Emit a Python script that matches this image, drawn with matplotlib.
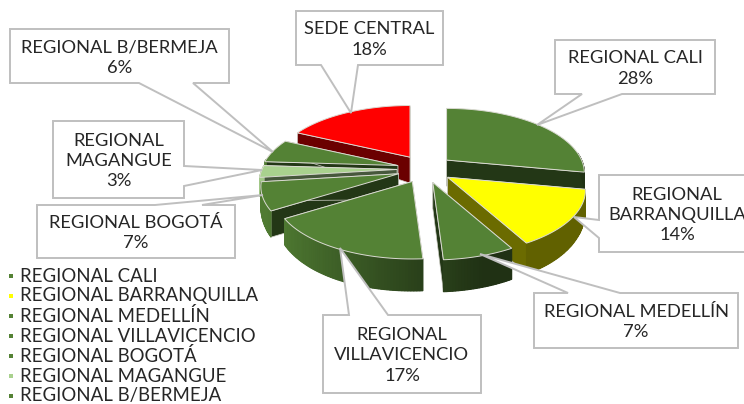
import numpy as np
import matplotlib
matplotlib.use("Agg")
import matplotlib.pyplot as plt
from matplotlib.patches import Polygon

# ============================================================
# DATA
# ============================================================

categories = ["REGIONAL CALI", "REGIONAL BARRANQUILLA", "REGIONAL MEDELLÍN", "REGIONAL VILLAVICENCIO",
              "REGIONAL BOGOTÁ", "REGIONAL MAGANGUE", "REGIONAL B/BERMEJA", "SEDE CENTRAL"]
percents = [28, 14, 7, 17, 7, 3, 6, 18]
callout_names = ["REGIONAL CALI", "REGIONAL\nBARRANQUILLA", "REGIONAL MEDELLÍN", "REGIONAL\nVILLAVICENCIO",
                 "REGIONAL BOGOTÁ", "REGIONAL\nMAGANGUE", "REGIONAL B/BERMEJA", "SEDE CENTRAL"]
legend_names = categories[:7]

GREEN = "#548235"
colors = [GREEN, "#FFFF00", GREEN, GREEN, GREEN, "#A9D18E", GREEN, "#FF0000"]

# ============================================================
# LAYOUT (pixels of the 744x404 picture)
# ============================================================

# left, top, right, bottom
boxes = [(555, 40, 715, 94), (599, 175, 755, 252), (534, 293, 738, 348), (323, 315, 481, 393),
         (37, 205, 235, 258), (53, 121, 184, 198), (10, 29, 229, 83), (296, 11, 443, 65)]
# two points where the pointer leaves the box, then its tip
pointers = [((582, 94), (622, 94), (537, 125)), ((599, 238), (599, 220), (574, 217)),
            ((568, 293), (620, 293), (480, 254)), ((349, 315), (388, 315), (340, 248)),
            ((155, 205), (202, 205), (263, 195)), ((184, 186), (184, 166), (262, 170)),
            ((139, 83), (193, 83), (273, 152)), ((321, 65), (358, 65), (351, 113))]

CENTER = (425, 169)
EXPLODE = (28, 14)
RX, RY, PERSP = 135, 62, 0.2
TEXT_COLOR = "#262626"
BOX_EDGE = "#BFBFBF"
FONT = "Lato"
FONT_SIZE = 13.2


# ============================================================
# PIE GEOMETRY
# ============================================================

def rim(theta):
    # theta clockwise from the top of the pie, in radians
    u, v = np.sin(theta), -np.cos(theta)
    s = 1 / (1 - PERSP * v)
    return RX * u * s, RY * v * s


def depth(u, v):
    return 26 + 6 * v - 9 * u * u * (1 - v)


def shade(color, factor):
    return tuple(c * factor for c in matplotlib.colors.to_rgb(color))


def wall_factor(u):
    return np.interp(u, [-0.9, 0.3], [0.95, 0.38])


def draw_slice(ax, a0, a1, color, zorder):
    mid = (a0 + a1) / 2
    ax_, ay_ = CENTER[0] + EXPLODE[0] * np.sin(mid), CENTER[1] - EXPLODE[1] * np.cos(mid)
    apex_drop = depth(0, 0)
    theta = np.linspace(a0, a1, max(int(np.degrees(a1 - a0)), 4))
    rx_, ry_ = rim(theta)
    xs, ys = ax_ + rx_, ay_ + ry_
    drops = depth(np.sin(theta), -np.cos(theta))

    # cut faces
    for i in (0, -1):
        face = [(ax_, ay_), (xs[i], ys[i]), (xs[i], ys[i] + drops[i]), (ax_, ay_ + apex_drop)]
        ax.add_patch(Polygon(face, closed=True, facecolor=shade(color, 0.42), edgecolor="#D0D0C8",
                             linewidth=0.5, zorder=zorder))

    # outer wall, a solid base and then strips so the light can change along it
    front = -np.cos(theta) > -0.1
    if front.any():
        base = list(zip(xs[front], ys[front])) + list(zip(xs[front][::-1], (ys + drops)[front][::-1]))
        base_tone = shade(color, wall_factor(np.sin(theta[front]).mean()))
        ax.add_patch(Polygon(base, closed=True, facecolor=base_tone, edgecolor="none", zorder=zorder + 0.1))
    for i in range(len(theta) - 1):
        if not (front[i] or front[i + 1]):
            continue
        strip = [(xs[i], ys[i]), (xs[i + 1], ys[i + 1]), (xs[i + 1], ys[i + 1] + drops[i + 1]),
                 (xs[i], ys[i] + drops[i])]
        tone = shade(color, wall_factor(np.sin(theta[i])))
        ax.add_patch(Polygon(strip, closed=True, facecolor=tone, edgecolor=tone, linewidth=0.8,
                             zorder=zorder + 0.1))

    # top
    top = [(ax_, ay_)] + list(zip(xs, ys))
    ax.add_patch(Polygon(top, closed=True, facecolor=color, edgecolor="#DADAD2", linewidth=0.7,
                         zorder=zorder + 0.2))


def draw_pie(ax):
    edges = np.cumsum([0] + percents) / sum(percents) * 2 * np.pi
    mids = (edges[:-1] + edges[1:]) / 2
    # back slices first
    order = np.argsort(-np.cos(mids))
    for rank, i in enumerate(order):
        draw_slice(ax, edges[i], edges[i + 1], colors[i], 2 + rank)


# ============================================================
# CALLOUTS AND LEGEND
# ============================================================

def draw_callouts(ax):
    for name, pct, box, ptr in zip(callout_names, percents, boxes, pointers):
        left, top, right, bottom = box
        rect = [(left, top), (right, top), (right, bottom), (left, bottom)]
        p0, p1, tip = ptr
        # walk the rectangle and cut the pointer in on the side it leaves from
        if p0[1] == bottom and p1[1] == bottom:
            outline = rect[:3] + [p1, tip, p0] + rect[3:]
        elif p0[1] == top and p1[1] == top:
            outline = [rect[0], p0, tip, p1] + rect[1:]
        elif p0[0] == right:
            outline = rect[:2] + [p1, tip, p0] + rect[2:]
        else:
            outline = rect + [p0, tip, p1]
        ax.add_patch(Polygon(outline, closed=True, facecolor="white", edgecolor=BOX_EDGE, linewidth=1.4,
                             joinstyle="miter", zorder=20))
        ax.text((left + right) / 2, (top + bottom) / 2 + 1.5, f"{name}\n{pct}%", ha="center", va="center",
                color=TEXT_COLOR, fontsize=FONT_SIZE, family=FONT, linespacing=1.32, zorder=21)


def draw_legend(ax):
    for i, name in enumerate(legend_names):
        y = 275.5 + i * 20
        ax.scatter([10.5], [y], s=11, marker="s", color=colors[i], linewidths=0, zorder=5)
        ax.text(20, y + 0.5, name, ha="left", va="center", color=TEXT_COLOR, fontsize=FONT_SIZE + 0.2, family=FONT,
                zorder=5)


# ============================================================
# MAIN
# ============================================================

def main():
    fig = plt.figure(figsize=(7.44, 4.04), dpi=100)
    ax = fig.add_axes([0, 0, 1, 1])
    ax.set_xlim(0, 744)
    ax.set_ylim(404, 0)
    ax.axis("off")

    draw_pie(ax)
    draw_callouts(ax)
    draw_legend(ax)

    fig.savefig("out.png", dpi=100)
    plt.close(fig)


if __name__ == "__main__":
    main()
